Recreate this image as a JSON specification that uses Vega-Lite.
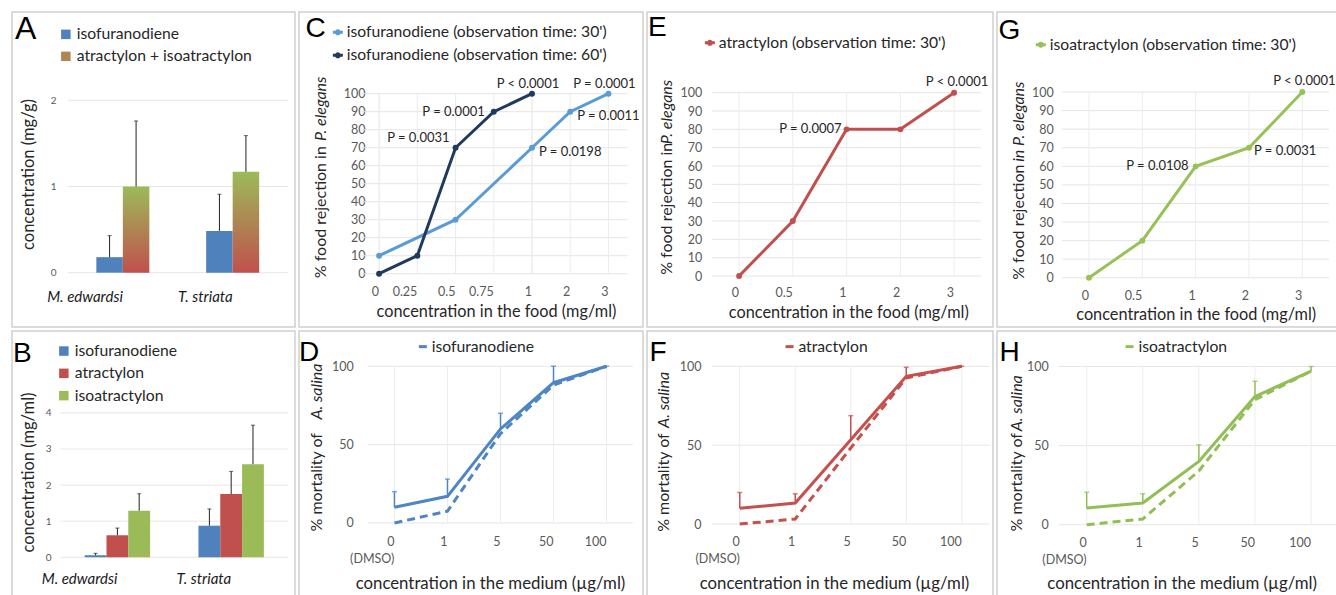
{
  "$schema": "https://vega.github.io/schema/vega-lite/v6.json",
  "background": "white",
  "padding": {"left": 11, "top": 11, "right": 0, "bottom": 0},
  "spacing": 2,
  "resolve": {"scale": {"color": "independent"}},
  "config": {
    "font": "Lato",
    "view": {"stroke": "#d0d0d0", "strokeWidth": 1.5},
    "axis": {"labelFont": "Lato", "titleFont": "Lato", "labelColor": "#595959", "titleColor": "#262626", "titleFontWeight": "normal", "ticks": false, "tickSize": 0, "domain": false, "grid": false, "labelPadding": 0},
    "legend": {"labelFont": "Lato", "labelColor": "#262626", "labelFontSize": 15.7, "padding": 0, "labelOffset": 2, "labelLimit": 400},
    "title": {"font": "Liberation Sans", "fontSize": 28, "fontWeight": "normal", "anchor": "start", "frame": "group", "baseline": "top", "color": "#000000"},
    "text": {"font": "Lato", "fontSize": 13, "color": "#262626"}
  },
  "datasets": {
    "dA": [
      {"sp": "M. edwardsi", "cmpA": "isofuranodiene", "v": 0.18, "hi": 0.43},
      {"sp": "M. edwardsi", "cmpA": "atractylon + isoatractylon", "v": 1.0, "hi": 1.76},
      {"sp": "T. striata", "cmpA": "isofuranodiene", "v": 0.485, "hi": 0.91},
      {"sp": "T. striata", "cmpA": "atractylon + isoatractylon", "v": 1.17, "hi": 1.59}
    ],
    "dB": [
      {"sp": "M. edwardsi", "cmpB": "isofuranodiene", "v": 0.055, "hi": 0.11},
      {"sp": "M. edwardsi", "cmpB": "atractylon", "v": 0.61, "hi": 0.81},
      {"sp": "M. edwardsi", "cmpB": "isoatractylon", "v": 1.29, "hi": 1.76},
      {"sp": "T. striata", "cmpB": "isofuranodiene", "v": 0.875, "hi": 1.34},
      {"sp": "T. striata", "cmpB": "atractylon", "v": 1.75, "hi": 2.38},
      {"sp": "T. striata", "cmpB": "isoatractylon", "v": 2.58, "hi": 3.66}
    ],
    "dC": [
      {"serC": "isofuranodiene (observation time: 30')", "conc": 0, "pct": 10},
      {"serC": "isofuranodiene (observation time: 30')", "conc": 0.5, "pct": 30},
      {"serC": "isofuranodiene (observation time: 30')", "conc": 1, "pct": 70},
      {"serC": "isofuranodiene (observation time: 30')", "conc": 2, "pct": 90},
      {"serC": "isofuranodiene (observation time: 30')", "conc": 3, "pct": 100},
      {"serC": "isofuranodiene (observation time: 60')", "conc": 0, "pct": 0},
      {"serC": "isofuranodiene (observation time: 60')", "conc": 0.25, "pct": 10},
      {"serC": "isofuranodiene (observation time: 60')", "conc": 0.5, "pct": 70},
      {"serC": "isofuranodiene (observation time: 60')", "conc": 0.75, "pct": 90},
      {"serC": "isofuranodiene (observation time: 60')", "conc": 1, "pct": 100}
    ],
    "dE": [
      {"serE": "atractylon (observation time: 30')", "conc": 0, "pct": 0},
      {"serE": "atractylon (observation time: 30')", "conc": 0.5, "pct": 30},
      {"serE": "atractylon (observation time: 30')", "conc": 1, "pct": 80},
      {"serE": "atractylon (observation time: 30')", "conc": 2, "pct": 80},
      {"serE": "atractylon (observation time: 30')", "conc": 3, "pct": 100}
    ],
    "dG": [
      {"serG": "isoatractylon (observation time: 30')", "conc": 0, "pct": 0},
      {"serG": "isoatractylon (observation time: 30')", "conc": 0.5, "pct": 20},
      {"serG": "isoatractylon (observation time: 30')", "conc": 1, "pct": 60},
      {"serG": "isoatractylon (observation time: 30')", "conc": 2, "pct": 70},
      {"serG": "isoatractylon (observation time: 30')", "conc": 3, "pct": 100}
    ],
    "dD": [
      {"serD": "isofuranodiene", "conc": 0, "m": 10, "hi": 20, "d": 0},
      {"serD": "isofuranodiene", "conc": 1, "m": 17, "hi": 28, "d": 7.5},
      {"serD": "isofuranodiene", "conc": 5, "m": 60, "hi": 70, "d": 57},
      {"serD": "isofuranodiene", "conc": 50, "m": 89.5, "hi": 100, "d": 88},
      {"serD": "isofuranodiene", "conc": 100, "m": 100, "hi": 100, "d": 100}
    ],
    "dF": [
      {"serF": "atractylon", "conc": 0, "m": 10, "hi": 20, "d": 0},
      {"serF": "atractylon", "conc": 1, "m": 13.3, "hi": 19.2, "d": 3.2},
      {"serF": "atractylon", "conc": 5, "m": 53.5, "hi": 68.7, "d": 48.2},
      {"serF": "atractylon", "conc": 50, "m": 93.7, "hi": 99.4, "d": 92.6},
      {"serF": "atractylon", "conc": 100, "m": 100, "hi": 100, "d": 100}
    ],
    "dH": [
      {"serH": "isoatractylon", "conc": 0, "m": 10.5, "hi": 20.5, "d": 0},
      {"serH": "isoatractylon", "conc": 1, "m": 13.7, "hi": 19.6, "d": 3.6},
      {"serH": "isoatractylon", "conc": 5, "m": 40, "hi": 50.5, "d": 34},
      {"serH": "isoatractylon", "conc": 50, "m": 81, "hi": 90.6, "d": 79},
      {"serH": "isoatractylon", "conc": 100, "m": 97, "hi": 100, "d": 97}
    ]
  },
  "hconcat": [
    {
      "spacing": 2,
      "resolve": {"scale": {"color": "independent"}},
      "vconcat": [
        {
          "width": 283, "height": 315,
          "title": {"text": "A", "offset": -33.6, "dx": 3, "fontSize": 32},
          "layer": [
            {
              "data": {"values": [{"v": 0}, {"v": 1}, {"v": 2}]},
              "mark": {"type": "rule", "color": "#e6e6e6", "strokeWidth": 1},
              "encoding": {
                "y": {"field": "v", "type": "quantitative", "scale": {"domain": [-0.630, 3.024], "nice": false, "zero": false},
                  "axis": {"orient": "left", "offset": -44, "values": [0, 1, 2], "format": "d", "labelFontSize": 10, "title": "concentration (mg/g)", "titleFontSize": 16.5, "titleAngle": -90, "titleX": -28, "titleY": 162, "titleAlign": "center", "titleBaseline": "middle"}},
                "x": {"datum": "M. edwardsi", "type": "nominal", "bandPosition": 0},
                "x2": {"datum": "T. striata", "bandPosition": 1}
              }
            },
            {
              "data": {"name": "dA"},
              "transform": [{"filter": "datum.cmpA == 'isofuranodiene'"}],
              "mark": {"type": "bar", "width": 26.5, "xOffset": -13.25},
              "encoding": {
                "x": {"field": "sp", "type": "nominal", "scale": {"type": "band", "domain": ["M. edwardsi", "T. striata"], "paddingInner": 0, "paddingOuter": 0.2883, "align": 0.883},
                  "axis": {"orient": "bottom", "offset": -54.3, "labelPadding": 23.3, "labelBaseline": "middle", "labelAngle": 0, "labelFontSize": 15, "labelFontStyle": "italic", "labelColor": "#1a1a1a", "title": null}},
                "y": {"field": "v", "type": "quantitative"},
                "y2": {"datum": 0},
                "color": {"field": "cmpA", "type": "nominal",
                  "scale": {"domain": ["isofuranodiene", "atractylon + isoatractylon"], "range": ["#4f81bd", "#ad8653"]},
                  "legend": {"title": null, "orient": "none", "legendX": 46, "legendY": 14.5, "symbolType": "square", "symbolSize": 90, "symbolStrokeWidth": 0, "rowPadding": 5, "labelOffset": 3}}
              }
            },
            {
              "data": {"name": "dA"},
              "transform": [{"filter": "datum.cmpA == 'atractylon + isoatractylon'"}],
              "mark": {"type": "bar", "width": 26.5, "xOffset": 13.25, "color": {"gradient": "linear", "x1": 0, "y1": 0, "x2": 0, "y2": 1, "stops": [{"offset": 0, "color": "#9bbb59"}, {"offset": 1, "color": "#c0504d"}]}},
              "encoding": {
                "x": {"field": "sp", "type": "nominal"},
                "y": {"field": "v", "type": "quantitative"},
                "y2": {"datum": 0}
              }
            },
            {
              "data": {"name": "dA"},
              "transform": [{"filter": "datum.cmpA == 'isofuranodiene'"}],
              "mark": {"type": "rule", "color": "#222222", "strokeWidth": 1, "xOffset": -13.25},
              "encoding": {"x": {"field": "sp", "type": "nominal"}, "y": {"field": "v", "type": "quantitative"}, "y2": {"field": "hi"}}
            },
            {
              "data": {"name": "dA"},
              "transform": [{"filter": "datum.cmpA == 'atractylon + isoatractylon'"}],
              "mark": {"type": "rule", "color": "#222222", "strokeWidth": 1, "xOffset": 13.25},
              "encoding": {"x": {"field": "sp", "type": "nominal"}, "y": {"field": "v", "type": "quantitative"}, "y2": {"field": "hi"}}
            },
            {
              "data": {"name": "dA"},
              "transform": [{"filter": "datum.cmpA == 'isofuranodiene'"}],
              "mark": {"type": "tick", "color": "#222222", "thickness": 1, "size": 4, "xOffset": -13.25},
              "encoding": {"x": {"field": "sp", "type": "nominal"}, "y": {"field": "hi", "type": "quantitative"}}
            },
            {
              "data": {"name": "dA"},
              "transform": [{"filter": "datum.cmpA == 'atractylon + isoatractylon'"}],
              "mark": {"type": "tick", "color": "#222222", "thickness": 1, "size": 4, "xOffset": 13.25},
              "encoding": {"x": {"field": "sp", "type": "nominal"}, "y": {"field": "hi", "type": "quantitative"}}
            }
          ]
        },
        {
          "width": 283, "height": 270,
          "title": {"text": "B", "offset": -36.9, "dx": 1},
          "layer": [
            {
              "data": {"values": [{"v": 0}, {"v": 1}, {"v": 2}, {"v": 3}, {"v": 4}]},
              "mark": {"type": "rule", "color": "#e6e6e6", "strokeWidth": 1},
              "encoding": {
                "y": {"field": "v", "type": "quantitative", "scale": {"domain": [-1.211, 6.269], "nice": false, "zero": false},
                  "axis": {"orient": "left", "offset": -39, "values": [0, 1, 2, 3, 4], "format": "d", "labelFontSize": 10, "title": "concentration (mg/ml)", "titleFontSize": 16.5, "titleAngle": -90, "titleX": -23, "titleY": 141, "titleAlign": "center", "titleBaseline": "middle"}},
                "x": {"datum": "M. edwardsi", "type": "nominal", "bandPosition": 0},
                "x2": {"datum": "T. striata", "bandPosition": 1}
              }
            },
            {
              "data": {"name": "dB"},
              "transform": [{"filter": "datum.cmpB == 'isofuranodiene'"}],
              "mark": {"type": "bar", "width": 21.8, "xOffset": -21.8},
              "encoding": {
                "x": {"field": "sp", "type": "nominal", "scale": {"type": "band", "domain": ["M. edwardsi", "T. striata"], "paddingInner": 0, "paddingOuter": 0.2435, "align": 0.875},
                  "axis": {"orient": "bottom", "offset": -43.7, "labelPadding": 20.7, "labelBaseline": "middle", "labelAngle": 0, "labelFontSize": 15, "labelFontStyle": "italic", "labelColor": "#1a1a1a", "title": null}},
                "y": {"field": "v", "type": "quantitative"},
                "y2": {"datum": 0},
                "color": {"field": "cmpB", "type": "nominal",
                  "scale": {"domain": ["isofuranodiene", "atractylon", "isoatractylon"], "range": ["#4f81bd", "#c0504d", "#9bbb59"]},
                  "legend": {"title": null, "orient": "none", "legendX": 44, "legendY": 12.2, "symbolType": "square", "symbolSize": 90, "symbolStrokeWidth": 0, "rowPadding": 5.3, "labelOffset": 3}}
              }
            },
            {
              "data": {"name": "dB"},
              "transform": [{"filter": "datum.cmpB == 'atractylon'"}],
              "mark": {"type": "bar", "width": 21.8, "xOffset": 0},
              "encoding": {
                "x": {"field": "sp", "type": "nominal"},
                "y": {"field": "v", "type": "quantitative"},
                "y2": {"datum": 0},
                "color": {"field": "cmpB", "type": "nominal"}
              }
            },
            {
              "data": {"name": "dB"},
              "transform": [{"filter": "datum.cmpB == 'isoatractylon'"}],
              "mark": {"type": "bar", "width": 21.8, "xOffset": 21.8},
              "encoding": {
                "x": {"field": "sp", "type": "nominal"},
                "y": {"field": "v", "type": "quantitative"},
                "y2": {"datum": 0},
                "color": {"field": "cmpB", "type": "nominal"}
              }
            },
            {
              "data": {"name": "dB"},
              "transform": [{"filter": "datum.cmpB == 'isofuranodiene'"}],
              "mark": {"type": "rule", "color": "#222222", "strokeWidth": 1, "xOffset": -21.8},
              "encoding": {"x": {"field": "sp", "type": "nominal"}, "y": {"field": "v", "type": "quantitative"}, "y2": {"field": "hi"}}
            },
            {
              "data": {"name": "dB"},
              "transform": [{"filter": "datum.cmpB == 'atractylon'"}],
              "mark": {"type": "rule", "color": "#222222", "strokeWidth": 1, "xOffset": 0},
              "encoding": {"x": {"field": "sp", "type": "nominal"}, "y": {"field": "v", "type": "quantitative"}, "y2": {"field": "hi"}}
            },
            {
              "data": {"name": "dB"},
              "transform": [{"filter": "datum.cmpB == 'isoatractylon'"}],
              "mark": {"type": "rule", "color": "#222222", "strokeWidth": 1, "xOffset": 21.8},
              "encoding": {"x": {"field": "sp", "type": "nominal"}, "y": {"field": "v", "type": "quantitative"}, "y2": {"field": "hi"}}
            },
            {
              "data": {"name": "dB"},
              "transform": [{"filter": "datum.cmpB == 'isofuranodiene'"}],
              "mark": {"type": "tick", "color": "#222222", "thickness": 1, "size": 4, "xOffset": -21.8},
              "encoding": {"x": {"field": "sp", "type": "nominal"}, "y": {"field": "hi", "type": "quantitative"}}
            },
            {
              "data": {"name": "dB"},
              "transform": [{"filter": "datum.cmpB == 'atractylon'"}],
              "mark": {"type": "tick", "color": "#222222", "thickness": 1, "size": 4, "xOffset": 0},
              "encoding": {"x": {"field": "sp", "type": "nominal"}, "y": {"field": "hi", "type": "quantitative"}}
            },
            {
              "data": {"name": "dB"},
              "transform": [{"filter": "datum.cmpB == 'isoatractylon'"}],
              "mark": {"type": "tick", "color": "#222222", "thickness": 1, "size": 4, "xOffset": 21.8},
              "encoding": {"x": {"field": "sp", "type": "nominal"}, "y": {"field": "hi", "type": "quantitative"}}
            }
          ]
        }
      ]
    },
    {
      "spacing": 2,
      "resolve": {"scale": {"color": "independent"}},
      "vconcat": [
        {
          "width": 344, "height": 315,
          "title": {"text": "C", "offset": -31.4, "dx": 6.5},
          "resolve": {"axis": {"y": "independent"}},
          "layer": [
            {
              "data": {"values": [{"pct": 0}, {"pct": 10}, {"pct": 20}, {"pct": 30}, {"pct": 40}, {"pct": 50}, {"pct": 60}, {"pct": 70}, {"pct": 80}, {"pct": 90}, {"pct": 100}]},
              "mark": {"type": "rule", "color": "#e4e4e4", "strokeWidth": 1},
              "encoding": {
                "y": {"field": "pct", "type": "quantitative", "scale": {"domain": [-29.6, 145.4], "nice": false, "zero": false},
                  "axis": {"orient": "left", "offset": -66, "values": [0, 10, 20, 30, 40, 50, 60, 70, 80, 90, 100], "labelFontSize": 12.5, "title": "% food rejection in ", "titleFontSize": 16, "titleAngle": -90, "titleX": -45, "titleY": 265.7, "titleAlign": "left", "titleBaseline": "middle"}},
                "x": {"datum": 0, "type": "ordinal", "bandPosition": 0},
                "x2": {"datum": 3, "bandPosition": 1}
              }
            },
            {
              "data": {"name": "dC"},
              "mark": {"type": "rule", "color": "#ececec", "strokeWidth": 1},
              "encoding": {
                "x": {"field": "conc", "type": "ordinal", "scale": {"type": "band", "domain": [0, 0.25, 0.5, 0.75, 1, 2, 3], "paddingInner": 0, "paddingOuter": 1.063, "align": 0.798},
                  "axis": {"orient": "bottom", "offset": -53.3, "labelPadding": 17.3, "labelBaseline": "middle", "labelAngle": 0, "labelFontSize": 12.5, "title": "concentration in the food (mg/ml)", "titleFontSize": 16.3, "titleX": 197, "titleY": 37.3, "titleAlign": "center", "titleBaseline": "middle"}},
                "y": {"datum": 0, "type": "quantitative", "axis": null},
                "y2": {"datum": 100}
              }
            },
            {
              "data": {"name": "dC"},
              "mark": {"type": "line", "strokeWidth": 3},
              "encoding": {
                "x": {"field": "conc", "type": "ordinal"},
                "y": {"field": "pct", "type": "quantitative", "axis": null},
                "color": {"field": "serC", "type": "nominal",
                  "scale": {"domain": ["isofuranodiene (observation time: 30')", "isofuranodiene (observation time: 60')"], "range": ["#5b9bd5", "#1f3a5c"]},
                  "legend": {"title": null, "orient": "none", "legendX": 31, "legendY": 12.5, "symbolType": "M-1,0H1M-0.3,0A0.3,0.3 0 1,0 0.3,0A0.3,0.3 0 1,0 -0.3,0", "symbolSize": 100, "symbolStrokeWidth": 3, "rowPadding": 6, "labelOffset": 1}}
              }
            },
            {
              "data": {"name": "dC"},
              "mark": {"type": "point", "filled": true, "size": 35, "opacity": 1},
              "encoding": {
                "x": {"field": "conc", "type": "ordinal"},
                "y": {"field": "pct", "type": "quantitative", "axis": null},
                "color": {"field": "serC", "type": "nominal"}
              }
            },
            {
              "data": {"values": [{"conc": 1, "pct": 100, "p": "P < 0.0001"}, {"conc": 3, "pct": 100, "p": "P = 0.0001"}]},
              "mark": {"type": "text", "align": "center", "baseline": "middle", "dx": -4, "dy": -10},
              "encoding": {"x": {"field": "conc", "type": "ordinal"}, "y": {"field": "pct", "type": "quantitative", "axis": null}, "text": {"field": "p"}}
            },
            {
              "data": {"values": [{"conc": 0.75, "pct": 90, "p": "P = 0.0001"}]},
              "mark": {"type": "text", "align": "right", "baseline": "middle", "dx": -9, "dy": 0},
              "encoding": {"x": {"field": "conc", "type": "ordinal"}, "y": {"field": "pct", "type": "quantitative", "axis": null}, "text": {"field": "p"}}
            },
            {
              "data": {"values": [{"conc": 0.5, "pct": 70, "p": "P = 0.0031"}]},
              "mark": {"type": "text", "align": "right", "baseline": "middle", "dx": -6, "dy": -10},
              "encoding": {"x": {"field": "conc", "type": "ordinal"}, "y": {"field": "pct", "type": "quantitative", "axis": null}, "text": {"field": "p"}}
            },
            {
              "data": {"values": [{"conc": 2, "pct": 90, "p": "P = 0.0011"}, {"conc": 1, "pct": 70, "p": "P = 0.0198"}]},
              "mark": {"type": "text", "align": "left", "baseline": "middle", "dx": 7, "dy": 4},
              "encoding": {"x": {"field": "conc", "type": "ordinal"}, "y": {"field": "pct", "type": "quantitative", "axis": null}, "text": {"field": "p"}}
            },
            {
              "data": {"values": [{"pct": 0}]},
              "mark": {"type": "rule", "opacity": 0},
              "encoding": {
                "y": {"field": "pct", "type": "quantitative",
                  "axis": {"orient": "left", "offset": -66, "labels": false, "values": [], "title": "P. elegans", "titleFontStyle": "italic", "titleFontSize": 16, "titleAngle": -90, "titleX": -45, "titleY": 64, "titleAlign": "right", "titleBaseline": "middle"}}
              }
            }
          ]
        },
        {
          "width": 344, "height": 270,
          "title": {"text": "D", "offset": -35.9, "dx": 0},
          "resolve": {"axis": {"y": "independent"}},
          "layer": [
            {
              "data": {"values": [{"m": 0}, {"m": 50}, {"m": 100}]},
              "mark": {"type": "rule", "color": "#e6e6e6", "strokeWidth": 1},
              "encoding": {
                "y": {"field": "m", "type": "quantitative", "scale": {"domain": [-49.8, 122.5], "nice": false, "zero": false},
                  "axis": {"orient": "left", "offset": -54.3, "values": [0, 50, 100], "labelFontSize": 12.5, "title": "% mortality of ", "titleFontSize": 16, "titleAngle": -90, "titleX": -36.6, "titleY": 200, "titleAlign": "left", "titleBaseline": "middle"}},
                "x": {"datum": 0, "type": "ordinal", "bandPosition": 0},
                "x2": {"datum": 100, "bandPosition": 1}
              }
            },
            {
              "data": {"name": "dD"},
              "mark": {"type": "rule", "color": "#ececec", "strokeWidth": 1},
              "encoding": {
                "x": {"field": "conc", "type": "ordinal", "scale": {"type": "band", "domain": [0, 1, 5, 50, 100], "paddingInner": 0, "paddingOuter": 0.744, "align": 0.874},
                  "axis": {"orient": "bottom", "offset": -78, "labelPadding": 12, "labelBaseline": "top", "labelAngle": 0, "labelFontSize": 12.5, "labelLineHeight": 17, "labelExpr": "datum.value == 0 ? ['0', '(DMSO)'] : datum.label", "title": "concentration in the medium (µg/ml)", "titleFontSize": 16.8, "titleX": 191, "titleY": 60, "titleAlign": "center", "titleBaseline": "middle"}},
                "y": {"datum": 0, "type": "quantitative", "axis": null},
                "y2": {"datum": 100}
              }
            },
            {
              "data": {"name": "dD"},
              "mark": {"type": "line", "strokeWidth": 3, "strokeDash": [8, 5], "color": "#4d85c5"},
              "encoding": {"x": {"field": "conc", "type": "ordinal"}, "y": {"field": "d", "type": "quantitative", "axis": null}}
            },
            {
              "data": {"name": "dD"},
              "mark": {"type": "rule", "strokeWidth": 1.5, "color": "#4d85c5"},
              "encoding": {"x": {"field": "conc", "type": "ordinal"}, "y": {"field": "m", "type": "quantitative", "axis": null}, "y2": {"field": "hi"}}
            },
            {
              "data": {"name": "dD"},
              "mark": {"type": "tick", "thickness": 1.5, "size": 5, "color": "#4d85c5"},
              "encoding": {"x": {"field": "conc", "type": "ordinal"}, "y": {"field": "hi", "type": "quantitative", "axis": null}}
            },
            {
              "data": {"name": "dD"},
              "mark": {"type": "line", "strokeWidth": 3},
              "encoding": {
                "x": {"field": "conc", "type": "ordinal"},
                "y": {"field": "m", "type": "quantitative", "axis": null},
                "color": {"field": "serD", "type": "nominal", "scale": {"domain": ["isofuranodiene"], "range": ["#4d85c5"]},
                  "legend": {"title": null, "orient": "none", "legendX": 116, "legendY": 7.8, "symbolType": "M-1,0H1", "symbolSize": 64, "symbolStrokeWidth": 3, "labelOffset": 1}}
              }
            },
            {
              "data": {"values": [{"m": 0}]},
              "mark": {"type": "rule", "opacity": 0},
              "encoding": {
                "y": {"field": "m", "type": "quantitative",
                  "axis": {"orient": "left", "offset": -54.3, "labels": false, "values": [], "title": "A. salina", "titleFontStyle": "italic", "titleFontSize": 16, "titleAngle": -90, "titleX": -36.6, "titleY": 32, "titleAlign": "right", "titleBaseline": "middle"}}
              }
            }
          ]
        }
      ]
    },
    {
      "spacing": 2,
      "resolve": {"scale": {"color": "independent"}},
      "vconcat": [
        {
          "width": 346, "height": 315,
          "title": {"text": "E", "offset": -29.9, "dx": 1},
          "resolve": {"axis": {"y": "independent"}},
          "layer": [
            {
              "data": {"values": [{"pct": 0}, {"pct": 10}, {"pct": 20}, {"pct": 30}, {"pct": 40}, {"pct": 50}, {"pct": 60}, {"pct": 70}, {"pct": 80}, {"pct": 90}, {"pct": 100}]},
              "mark": {"type": "rule", "color": "#e4e4e4", "strokeWidth": 1},
              "encoding": {
                "y": {"field": "pct", "type": "quantitative", "scale": {"domain": [-27.8, 144.0], "nice": false, "zero": false},
                  "axis": {"orient": "left", "offset": -54.7, "values": [0, 10, 20, 30, 40, 50, 60, 70, 80, 90, 100], "labelFontSize": 12.5, "title": "% food rejection in ", "titleFontSize": 16, "titleAngle": -90, "titleX": -35, "titleY": 262.3, "titleAlign": "left", "titleBaseline": "middle"}},
                "x": {"datum": 0, "type": "ordinal", "bandPosition": 0},
                "x2": {"datum": 3, "bandPosition": 1}
              }
            },
            {
              "data": {"name": "dE"},
              "mark": {"type": "rule", "color": "#ececec", "strokeWidth": 1},
              "encoding": {
                "x": {"field": "conc", "type": "ordinal", "scale": {"type": "band", "domain": [0, 0.5, 1, 2, 3], "paddingInner": 0, "paddingOuter": 0.719, "align": 0.844},
                  "axis": {"orient": "bottom", "offset": -51, "labelPadding": 16.7, "labelBaseline": "middle", "labelAngle": 0, "labelFontSize": 12.5, "title": "concentration in the food (mg/ml)", "titleFontSize": 16.3, "titleX": 201.3, "titleY": 36.7, "titleAlign": "center", "titleBaseline": "middle"}},
                "y": {"datum": 0, "type": "quantitative", "axis": null},
                "y2": {"datum": 100}
              }
            },
            {
              "data": {"name": "dE"},
              "mark": {"type": "line", "strokeWidth": 3},
              "encoding": {
                "x": {"field": "conc", "type": "ordinal"},
                "y": {"field": "pct", "type": "quantitative", "axis": null},
                "color": {"field": "serE", "type": "nominal",
                  "scale": {"domain": ["atractylon (observation time: 30')"], "range": ["#c0504d"]},
                  "legend": {"title": null, "orient": "none", "legendX": 55, "legendY": 23, "symbolType": "M-1,0H1M-0.3,0A0.3,0.3 0 1,0 0.3,0A0.3,0.3 0 1,0 -0.3,0", "symbolSize": 100, "symbolStrokeWidth": 3, "labelOffset": 1}}
              }
            },
            {
              "data": {"name": "dE"},
              "mark": {"type": "point", "filled": true, "size": 35, "opacity": 1},
              "encoding": {
                "x": {"field": "conc", "type": "ordinal"},
                "y": {"field": "pct", "type": "quantitative", "axis": null},
                "color": {"field": "serE", "type": "nominal"}
              }
            },
            {
              "data": {"values": [{"conc": 3, "pct": 100, "p": "P < 0.0001"}]},
              "mark": {"type": "text", "align": "center", "baseline": "middle", "dx": 3, "dy": -11},
              "encoding": {"x": {"field": "conc", "type": "ordinal"}, "y": {"field": "pct", "type": "quantitative", "axis": null}, "text": {"field": "p"}}
            },
            {
              "data": {"values": [{"conc": 1, "pct": 80, "p": "P = 0.0007"}]},
              "mark": {"type": "text", "align": "right", "baseline": "middle", "dx": -5, "dy": 0},
              "encoding": {"x": {"field": "conc", "type": "ordinal"}, "y": {"field": "pct", "type": "quantitative", "axis": null}, "text": {"field": "p"}}
            },
            {
              "data": {"values": [{"pct": 0}]},
              "mark": {"type": "rule", "opacity": 0},
              "encoding": {
                "y": {"field": "pct", "type": "quantitative",
                  "axis": {"orient": "left", "offset": -54.7, "labels": false, "values": [], "title": "P. elegans", "titleFontStyle": "italic", "titleFontSize": 16, "titleAngle": -90, "titleX": -35, "titleY": 67.3, "titleAlign": "right", "titleBaseline": "middle"}}
              }
            }
          ]
        },
        {
          "width": 346, "height": 270,
          "title": {"text": "F", "offset": -35.6, "dx": 2.5},
          "resolve": {"axis": {"y": "independent"}},
          "layer": [
            {
              "data": {"values": [{"m": 0}, {"m": 50}, {"m": 100}]},
              "mark": {"type": "rule", "color": "#e6e6e6", "strokeWidth": 1},
              "encoding": {
                "y": {"field": "m", "type": "quantitative", "scale": {"domain": [-48.8, 122.4], "nice": false, "zero": false},
                  "axis": {"orient": "left", "offset": -54, "values": [0, 50, 100], "labelFontSize": 12.5, "title": "% mortality of ", "titleFontSize": 16, "titleAngle": -90, "titleX": -37.7, "titleY": 200.3, "titleAlign": "left", "titleBaseline": "middle"}},
                "x": {"datum": 0, "type": "ordinal", "bandPosition": 0},
                "x2": {"datum": 100, "bandPosition": 1}
              }
            },
            {
              "data": {"name": "dF"},
              "mark": {"type": "rule", "color": "#ececec", "strokeWidth": 1},
              "encoding": {
                "x": {"field": "conc", "type": "ordinal", "scale": {"type": "band", "domain": [0, 1, 5, 50, 100], "paddingInner": 0, "paddingOuter": 0.617, "align": 0.949},
                  "axis": {"orient": "bottom", "offset": -77, "labelPadding": 11.5, "labelBaseline": "top", "labelAngle": 0, "labelFontSize": 12.5, "labelLineHeight": 17, "labelExpr": "datum.value == 0 ? ['0', '(DMSO)'] : datum.label", "title": "concentration in the medium (µg/ml)", "titleFontSize": 16.8, "titleX": 187, "titleY": 59, "titleAlign": "center", "titleBaseline": "middle"}},
                "y": {"datum": 0, "type": "quantitative", "axis": null},
                "y2": {"datum": 100}
              }
            },
            {
              "data": {"name": "dF"},
              "mark": {"type": "line", "strokeWidth": 3, "strokeDash": [8, 5], "color": "#c5504d"},
              "encoding": {"x": {"field": "conc", "type": "ordinal"}, "y": {"field": "d", "type": "quantitative", "axis": null}}
            },
            {
              "data": {"name": "dF"},
              "mark": {"type": "rule", "strokeWidth": 1.5, "color": "#c5504d"},
              "encoding": {"x": {"field": "conc", "type": "ordinal"}, "y": {"field": "m", "type": "quantitative", "axis": null}, "y2": {"field": "hi"}}
            },
            {
              "data": {"name": "dF"},
              "mark": {"type": "tick", "thickness": 1.5, "size": 5, "color": "#c5504d"},
              "encoding": {"x": {"field": "conc", "type": "ordinal"}, "y": {"field": "hi", "type": "quantitative", "axis": null}}
            },
            {
              "data": {"name": "dF"},
              "mark": {"type": "line", "strokeWidth": 3},
              "encoding": {
                "x": {"field": "conc", "type": "ordinal"},
                "y": {"field": "m", "type": "quantitative", "axis": null},
                "color": {"field": "serF", "type": "nominal", "scale": {"domain": ["atractylon"], "range": ["#c5504d"]},
                  "legend": {"title": null, "orient": "none", "legendX": 134.7, "legendY": 7.8, "symbolType": "M-1,0H1", "symbolSize": 64, "symbolStrokeWidth": 3, "labelOffset": 1}}
              }
            },
            {
              "data": {"values": [{"m": 0}]},
              "mark": {"type": "rule", "opacity": 0},
              "encoding": {
                "y": {"field": "m", "type": "quantitative",
                  "axis": {"orient": "left", "offset": -54, "labels": false, "values": [], "title": "A. salina", "titleFontStyle": "italic", "titleFontSize": 16, "titleAngle": -90, "titleX": -37.7, "titleY": 40.3, "titleAlign": "right", "titleBaseline": "middle"}}
              }
            }
          ]
        }
      ]
    },
    {
      "spacing": 2,
      "resolve": {"scale": {"color": "independent"}},
      "vconcat": [
        {
          "width": 343, "height": 315,
          "title": {"text": "G", "offset": -32.5, "dx": 1.5},
          "resolve": {"axis": {"y": "independent"}},
          "layer": [
            {
              "data": {"values": [{"pct": 0}, {"pct": 10}, {"pct": 20}, {"pct": 30}, {"pct": 40}, {"pct": 50}, {"pct": 60}, {"pct": 70}, {"pct": 80}, {"pct": 90}, {"pct": 100}]},
              "mark": {"type": "rule", "color": "#e4e4e4", "strokeWidth": 1},
              "encoding": {
                "y": {"field": "pct", "type": "quantitative", "scale": {"domain": [-26.5, 143.1], "nice": false, "zero": false},
                  "axis": {"orient": "left", "offset": -56.3, "values": [0, 10, 20, 30, 40, 50, 60, 70, 80, 90, 100], "labelFontSize": 12.5, "title": "% food rejection ", "titleFontSize": 16, "titleAngle": -90, "titleX": -35, "titleY": 267.3, "titleAlign": "left", "titleBaseline": "middle"}},
                "x": {"datum": 0, "type": "ordinal", "bandPosition": 0},
                "x2": {"datum": 3, "bandPosition": 1}
              }
            },
            {
              "data": {"name": "dG"},
              "mark": {"type": "rule", "color": "#ececec", "strokeWidth": 1},
              "encoding": {
                "x": {"field": "conc", "type": "ordinal", "scale": {"type": "band", "domain": [0, 0.5, 1, 2, 3], "paddingInner": 0, "paddingOuter": 0.715, "align": 0.856},
                  "axis": {"orient": "bottom", "offset": -49.3, "labelPadding": 17.3, "labelBaseline": "middle", "labelAngle": 0, "labelFontSize": 12.5, "title": "concentration in the food (mg/ml)", "titleFontSize": 16.3, "titleX": 198.7, "titleY": 36.6, "titleAlign": "center", "titleBaseline": "middle"}},
                "y": {"datum": 0, "type": "quantitative", "axis": null},
                "y2": {"datum": 100}
              }
            },
            {
              "data": {"name": "dG"},
              "mark": {"type": "line", "strokeWidth": 3},
              "encoding": {
                "x": {"field": "conc", "type": "ordinal"},
                "y": {"field": "pct", "type": "quantitative", "axis": null},
                "color": {"field": "serG", "type": "nominal",
                  "scale": {"domain": ["isoatractylon (observation time: 30')"], "range": ["#98c158"]},
                  "legend": {"title": null, "orient": "none", "legendX": 36, "legendY": 24.8, "symbolType": "M-1,0H1M-0.3,0A0.3,0.3 0 1,0 0.3,0A0.3,0.3 0 1,0 -0.3,0", "symbolSize": 100, "symbolStrokeWidth": 3, "labelOffset": 1}}
              }
            },
            {
              "data": {"name": "dG"},
              "mark": {"type": "point", "filled": true, "size": 35, "opacity": 1},
              "encoding": {
                "x": {"field": "conc", "type": "ordinal"},
                "y": {"field": "pct", "type": "quantitative", "axis": null},
                "color": {"field": "serG", "type": "nominal"}
              }
            },
            {
              "data": {"values": [{"conc": 3, "pct": 100, "p": "P < 0.0001"}]},
              "mark": {"type": "text", "align": "center", "baseline": "middle", "dx": 2, "dy": -11},
              "encoding": {"x": {"field": "conc", "type": "ordinal"}, "y": {"field": "pct", "type": "quantitative", "axis": null}, "text": {"field": "p"}}
            },
            {
              "data": {"values": [{"conc": 1, "pct": 60, "p": "P = 0.0108"}]},
              "mark": {"type": "text", "align": "right", "baseline": "middle", "dx": -7, "dy": 0},
              "encoding": {"x": {"field": "conc", "type": "ordinal"}, "y": {"field": "pct", "type": "quantitative", "axis": null}, "text": {"field": "p"}}
            },
            {
              "data": {"values": [{"conc": 2, "pct": 70, "p": "P = 0.0031"}]},
              "mark": {"type": "text", "align": "left", "baseline": "middle", "dx": 5, "dy": 3},
              "encoding": {"x": {"field": "conc", "type": "ordinal"}, "y": {"field": "pct", "type": "quantitative", "axis": null}, "text": {"field": "p"}}
            },
            {
              "data": {"values": [{"pct": 0}]},
              "mark": {"type": "rule", "opacity": 0},
              "encoding": {
                "y": {"field": "pct", "type": "quantitative",
                  "axis": {"orient": "left", "offset": -56.3, "labels": false, "values": [], "title": "in P. elegans", "titleFontStyle": "italic", "titleFontSize": 16, "titleAngle": -90, "titleX": -35, "titleY": 69, "titleAlign": "right", "titleBaseline": "middle"}}
              }
            }
          ]
        },
        {
          "width": 343, "height": 270,
          "title": {"text": "H", "offset": -36.2, "dx": 2.5},
          "resolve": {"axis": {"y": "independent"}},
          "layer": [
            {
              "data": {"values": [{"m": 0}, {"m": 50}, {"m": 100}]},
              "mark": {"type": "rule", "color": "#e6e6e6", "strokeWidth": 1},
              "encoding": {
                "y": {"field": "m", "type": "quantitative", "scale": {"domain": [-48.2, 122.4], "nice": false, "zero": false},
                  "axis": {"orient": "left", "offset": -51.3, "values": [0, 50, 100], "labelFontSize": 12.5, "title": "% mortality of ", "titleFontSize": 16, "titleAngle": -90, "titleX": -31.6, "titleY": 200, "titleAlign": "left", "titleBaseline": "middle"}},
                "x": {"datum": 0, "type": "ordinal", "bandPosition": 0},
                "x2": {"datum": 100, "bandPosition": 1}
              }
            },
            {
              "data": {"name": "dH"},
              "mark": {"type": "rule", "color": "#ececec", "strokeWidth": 1},
              "encoding": {
                "x": {"field": "conc", "type": "ordinal", "scale": {"type": "band", "domain": [0, 1, 5, 50, 100], "paddingInner": 0, "paddingOuter": 0.557, "align": 0.986},
                  "axis": {"orient": "bottom", "offset": -76.3, "labelPadding": 11.5, "labelBaseline": "top", "labelAngle": 0, "labelFontSize": 12.5, "labelLineHeight": 17, "labelExpr": "datum.value == 0 ? ['0', '(DMSO)'] : datum.label", "title": "concentration in the medium (µg/ml)", "titleFontSize": 16.8, "titleX": 184.7, "titleY": 58.3, "titleAlign": "center", "titleBaseline": "middle"}},
                "y": {"datum": 0, "type": "quantitative", "axis": null},
                "y2": {"datum": 100}
              }
            },
            {
              "data": {"name": "dH"},
              "mark": {"type": "line", "strokeWidth": 3, "strokeDash": [8, 5], "color": "#92bf55"},
              "encoding": {"x": {"field": "conc", "type": "ordinal"}, "y": {"field": "d", "type": "quantitative", "axis": null}}
            },
            {
              "data": {"name": "dH"},
              "mark": {"type": "rule", "strokeWidth": 1.5, "color": "#92bf55"},
              "encoding": {"x": {"field": "conc", "type": "ordinal"}, "y": {"field": "m", "type": "quantitative", "axis": null}, "y2": {"field": "hi"}}
            },
            {
              "data": {"name": "dH"},
              "mark": {"type": "tick", "thickness": 1.5, "size": 5, "color": "#92bf55"},
              "encoding": {"x": {"field": "conc", "type": "ordinal"}, "y": {"field": "hi", "type": "quantitative", "axis": null}}
            },
            {
              "data": {"name": "dH"},
              "mark": {"type": "line", "strokeWidth": 3},
              "encoding": {
                "x": {"field": "conc", "type": "ordinal"},
                "y": {"field": "m", "type": "quantitative", "axis": null},
                "color": {"field": "serH", "type": "nominal", "scale": {"domain": ["isoatractylon"], "range": ["#92bf55"]},
                  "legend": {"title": null, "orient": "none", "legendX": 124.7, "legendY": 7.8, "symbolType": "M-1,0H1", "symbolSize": 64, "symbolStrokeWidth": 3, "labelOffset": 1}}
              }
            },
            {
              "data": {"values": [{"m": 0}]},
              "mark": {"type": "rule", "opacity": 0},
              "encoding": {
                "y": {"field": "m", "type": "quantitative",
                  "axis": {"orient": "left", "offset": -51.3, "labels": false, "values": [], "title": "A. salina", "titleFontStyle": "italic", "titleFontSize": 16, "titleAngle": -90, "titleX": -31.6, "titleY": 43.7, "titleAlign": "right", "titleBaseline": "middle"}}
              }
            }
          ]
        }
      ]
    }
  ]
}
